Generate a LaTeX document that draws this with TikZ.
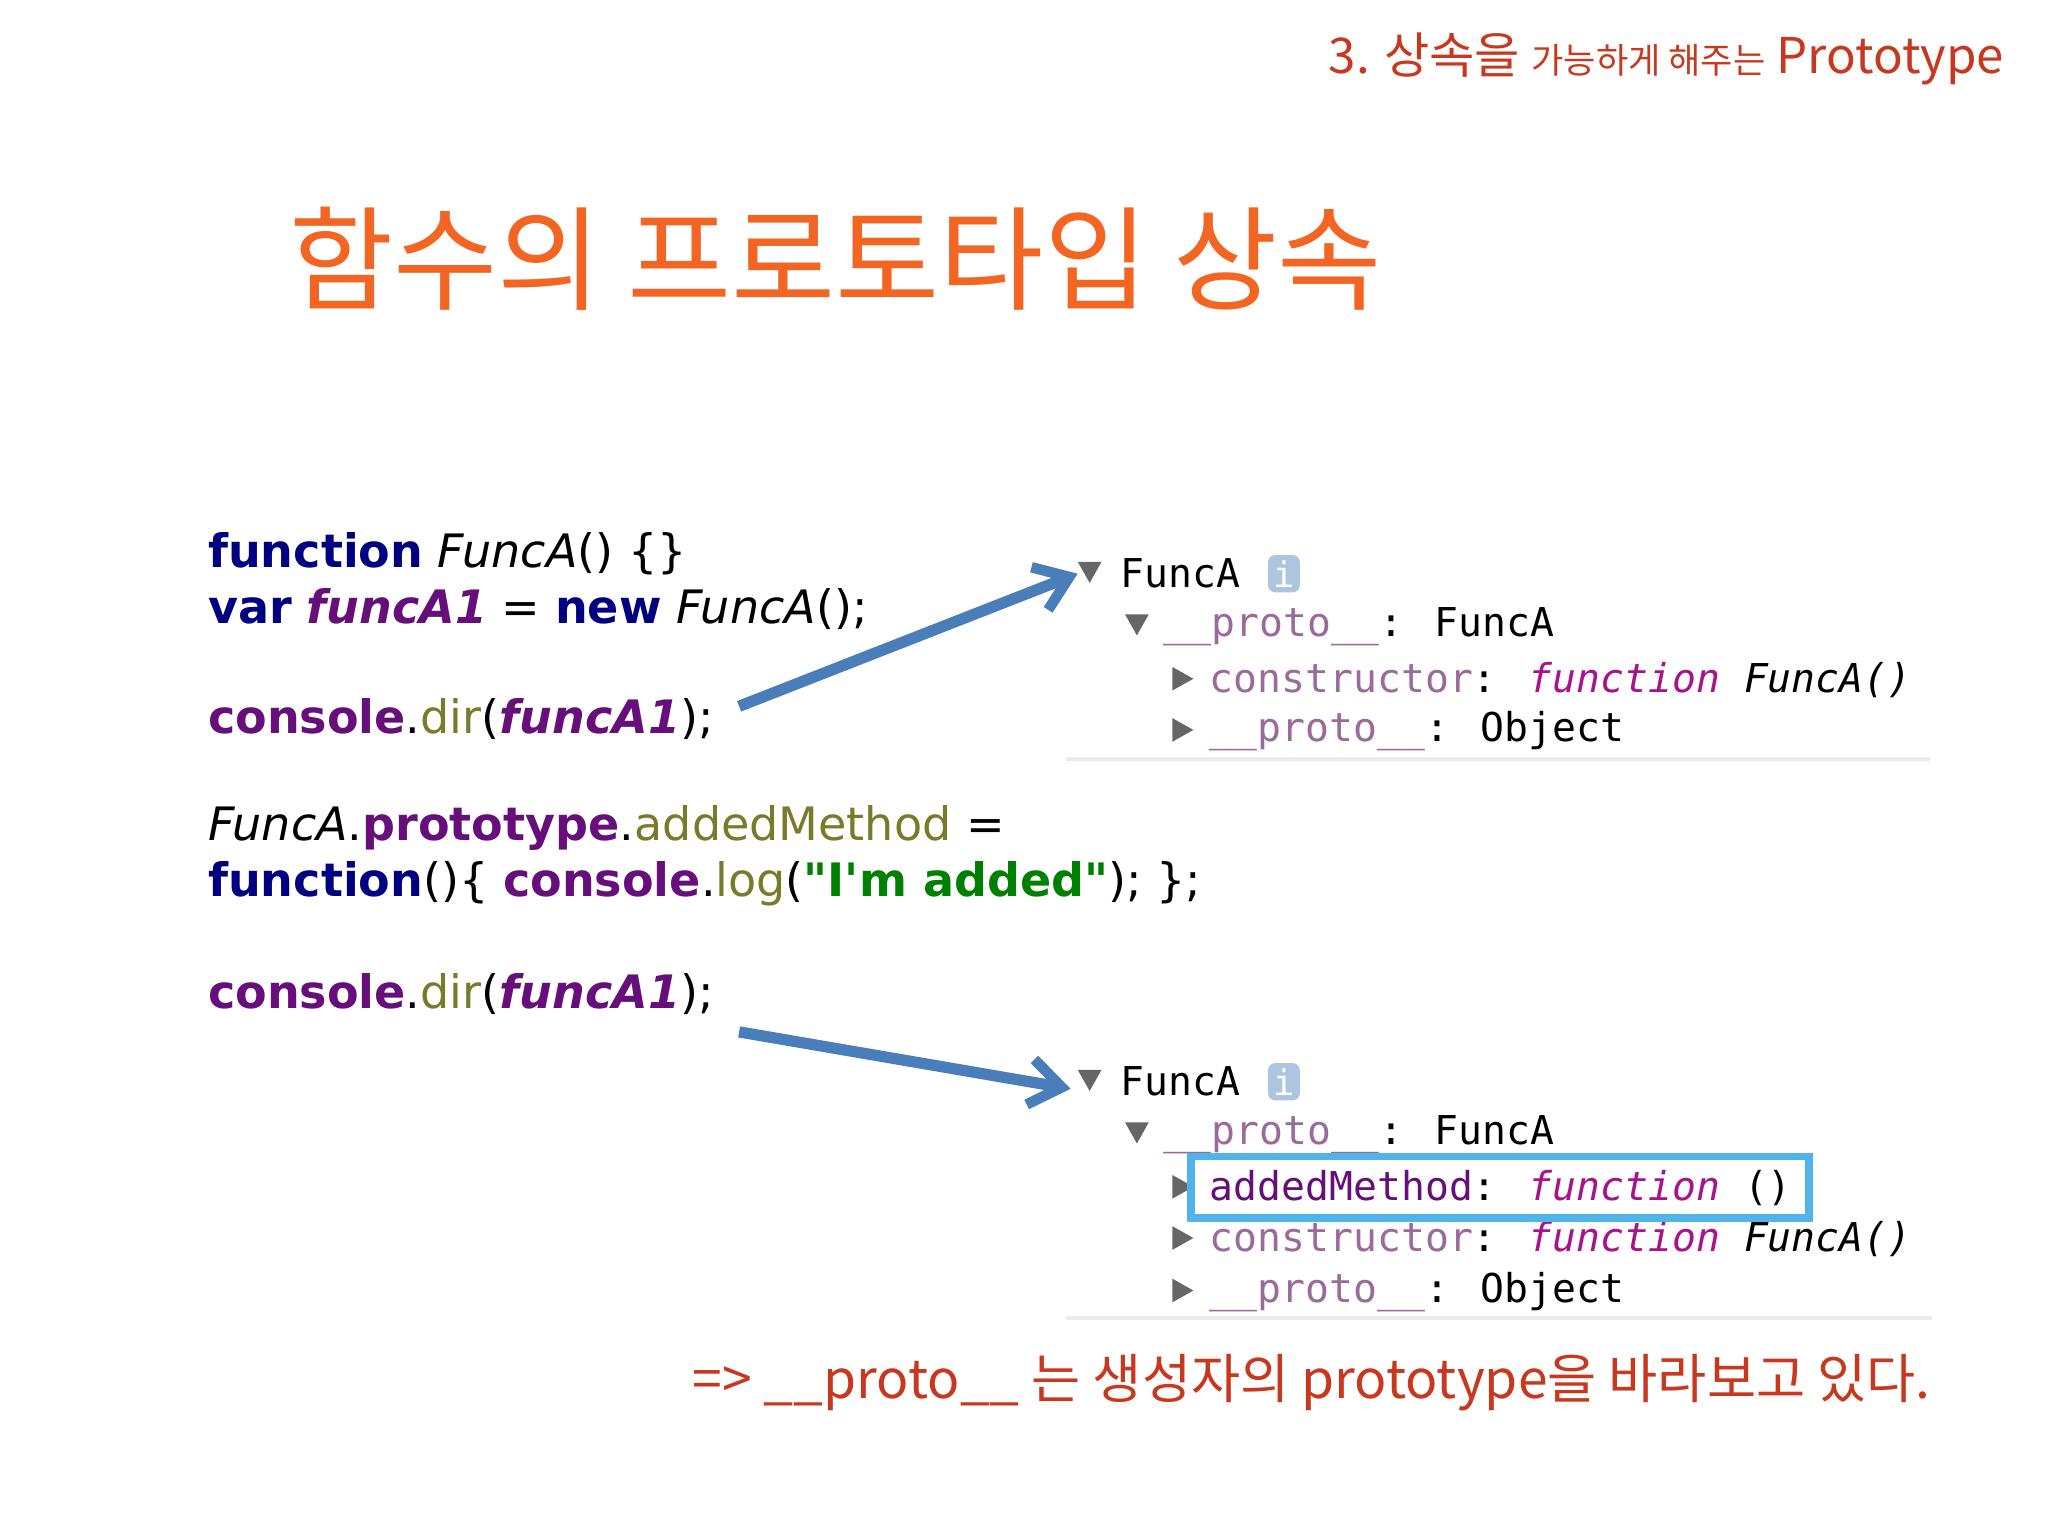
\documentclass[tikz,border=0pt]{standalone}
\usepackage{fontspec}
\setmainfont{DejaVu Sans}
\newfontfamily\kr{Noto Sans CJK KR}
\newfontfamily\mono{DejaVu Sans Mono}
\usetikzlibrary{arrows.meta}
\definecolor{kw}{HTML}{000080}
\definecolor{pu}{HTML}{660E7A}
\definecolor{ol}{HTML}{7A7A2B}
\definecolor{gr}{HTML}{008000}
\definecolor{ttl}{HTML}{F26522}
\definecolor{hdr}{HTML}{C8381E}
\definecolor{arr}{HTML}{4A7EBB}
\definecolor{prop}{HTML}{9A6A9A}
\definecolor{fn}{HTML}{A8128A}
\definecolor{tri}{HTML}{666666}
\begin{document}
\begin{tikzpicture}[x=0.01313cm,y=-0.01313cm,
 code/.style={anchor=west,inner sep=0,font=\fontsize{13.1}{16}\selectfont},
 con/.style={anchor=west,inner sep=0,font=\mono\fontsize{11.3}{14}\selectfont},
 tr/.style={fill=tri,draw=none},
 arrow/.style={draw=arr,line width=3.2pt,-{Straight Barb[length=9pt,width=13pt,line width=3pt]}}]
\useasboundingbox (0,0) rectangle (1560,1170);
\fill[white] (0,0) rectangle (1560,1170);
% header
\node[anchor=east,inner sep=0,text=hdr] (hdr) at (1527,45) {\kr\fontsize{14}{17}\selectfont 3. 상속을 {\fontsize{10}{12}\selectfont 가능하게 해주는} Prototype};
\node[anchor=west,inner sep=0,text=ttl] (title) at (220,197) {\kr\fontsize{32.2}{38}\selectfont 함수의 프로토타입 상속};
% code
\node[code] (c1) at (158,422) {\textcolor{kw}{\bfseries function} \textit{FuncA}() \{\}};
\node[code] (c2) at (158,464) {\textcolor{kw}{\bfseries var} \textcolor{pu}{\bfseries\itshape funcA1} = \textcolor{kw}{\bfseries new} \textit{FuncA}();};
\node[code] (c3) at (158,548) {\textcolor{pu}{\bfseries console}.\textcolor{ol}{dir}(\textcolor{pu}{\bfseries\itshape funcA1});};
\node[code] (c4) at (158,631) {\textit{FuncA}.\textcolor{pu}{\bfseries prototype}.\textcolor{ol}{addedMethod} =};
\node[code] (c5) at (158,673) {\textcolor{kw}{\bfseries function}()\{ \textcolor{pu}{\bfseries console}.\textcolor{ol}{log}(\textcolor{gr}{\bfseries \textquotedbl I\textquotesingle m added\textquotedbl}); \};};
\node[code] (c6) at (158,757) {\textcolor{pu}{\bfseries console}.\textcolor{ol}{dir}(\textcolor{pu}{\bfseries\itshape funcA1});};
% panel 1
\node[con] (p1a) at (853,437) {FuncA};
\node[fill=arr!45,text=white,rounded corners=2pt,inner sep=1.5pt,font=\mono\fontsize{10}{12}\selectfont] (i1) at (978,437) {i};
\node[con] (p1b) at (886,477) {\textcolor{prop}{\_\_proto\_\_}: FuncA};
\node[con] (p1c) at (921,518) {\textcolor{prop}{constructor}: \textcolor{fn}{\itshape function} \textit{FuncA()}};
\node[con] (p1d) at (921,557) {\textcolor{prop}{\_\_proto\_\_}: Object};
\fill[tr] (821,428)--(839,428)--(830,444)--cycle;
\fill[tr] (857,468)--(875,468)--(866,484)--cycle;
\fill[tr] (893,508)--(909,517)--(893,526)--cycle;
\fill[tr] (893,547)--(909,556)--(893,565)--cycle;
\draw[black!8,line width=1pt] (812,578)--(1470,578);
% panel 2
\node[con] (p2a) at (853,824) {FuncA};
\node[fill=arr!45,text=white,rounded corners=2pt,inner sep=1.5pt,font=\mono\fontsize{10}{12}\selectfont] (i2) at (978,824) {i};
\node[con] (p2b) at (886,864) {\textcolor{prop}{\_\_proto\_\_}: FuncA};
\node[con] (p2c) at (921,905) {\textcolor{pu}{addedMethod}: \textcolor{fn}{\itshape function} ()};
\node[con] (p2d) at (921,944) {\textcolor{prop}{constructor}: \textcolor{fn}{\itshape function} \textit{FuncA()}};
\node[con] (p2e) at (921,984) {\textcolor{prop}{\_\_proto\_\_}: Object};
\fill[tr] (821,815)--(839,815)--(830,831)--cycle;
\fill[tr] (857,855)--(875,855)--(866,871)--cycle;
\fill[tr] (893,895)--(909,904)--(893,913)--cycle;
\fill[tr] (893,934)--(909,943)--(893,952)--cycle;
\fill[tr] (893,974)--(909,983)--(893,992)--cycle;
\draw[black!8,line width=1pt] (812,1004)--(1472,1004);
\draw[cyan!85!blue!70,line width=2.2pt] (907,881) rectangle (1378,928);
% arrows
\coordinate (s1) at (563,538); \coordinate (s2) at (563,786);
\draw[arrow] (s1) -- ([xshift=-12]p1a.west);
\draw[arrow] (s2) -- ([xshift=-14,yshift=-2]p2a.west);
% bottom
\node[anchor=west,inner sep=0,text=hdr] (note) at (527,1053) {\kr\fontsize{15.2}{18}\selectfont => \_\_proto\_\_ 는 생성자의 prototype을 바라보고 있다.};
\end{tikzpicture}
\end{document}
